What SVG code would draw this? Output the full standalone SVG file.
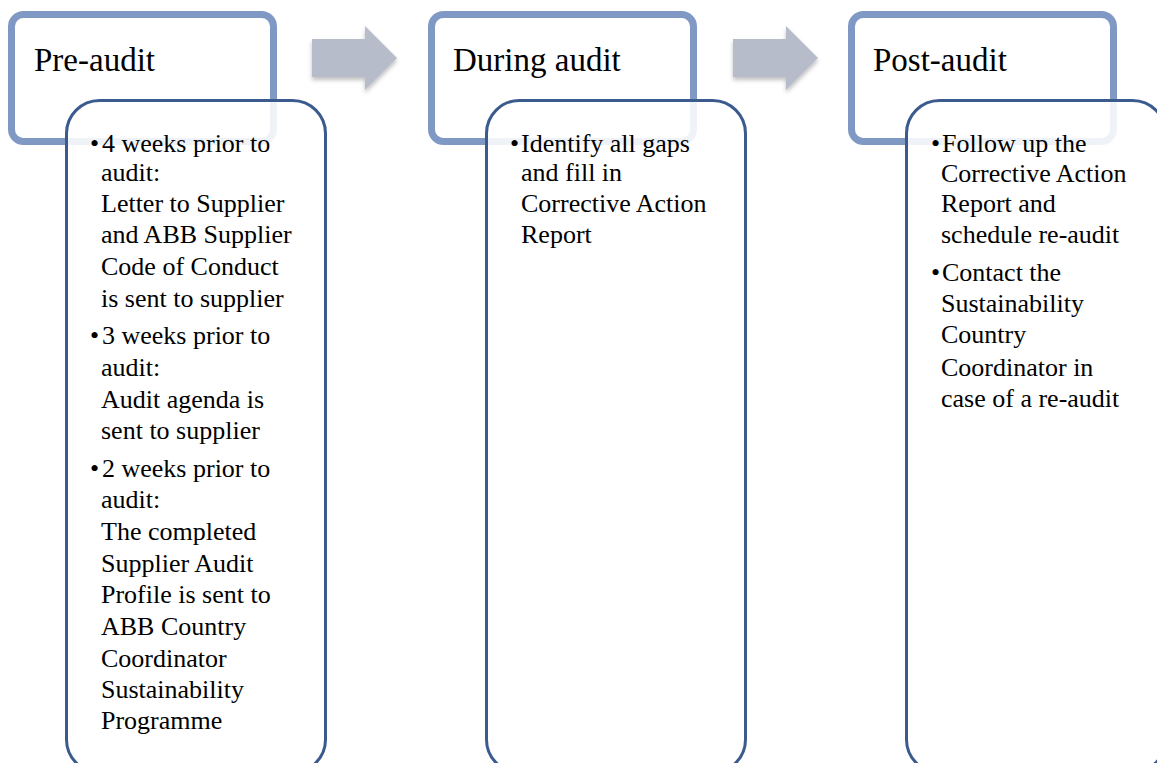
<svg xmlns="http://www.w3.org/2000/svg" width="1157" height="763" viewBox="0 0 1157 763">
  <style>
    .head { fill: #ffffff; stroke: #7f99c4; stroke-width: 7; }
    .body { fill: #ffffff; fill-opacity: 0.88; stroke: #3b5b8e; stroke-width: 3; }
    .title { font-family: "Liberation Serif", "Times New Roman", serif; font-size: 33px; fill: #000000; }
    .txt { font-family: "Liberation Serif", "Times New Roman", serif; font-size: 26px; fill: #000000; }
    .arrow { fill: #b7bccb; filter: url(#shadow); }
  </style>
  <defs>
    <filter id="shadow" x="-20%" y="-20%" width="140%" height="150%">
      <feDropShadow dx="0" dy="3" stdDeviation="2" flood-color="#000000" flood-opacity="0.25"/>
    </filter>
  </defs>

  <rect width="1157" height="763" fill="#ffffff"/>

  <!-- connectors: block arrows between the stages -->
  <g id="connectors">
    <polygon class="arrow" points="312,39 365,39 365,26 397,58 365,90 365,77 312,77"/>
    <polygon class="arrow" points="733,39 786,39 786,26 818,58 786,90 786,77 733,77"/>
  </g>

  <!-- stage 1 -->
  <g id="pre-audit">
    <rect class="head" x="11.5" y="14.5" width="262" height="127" rx="12"/>
    <text class="title" x="34" y="71">Pre-audit</text>
    <rect class="body" x="66.5" y="100.5" width="259" height="672" rx="33"/>
    <text class="txt">
      <tspan x="90" y="152">•</tspan><tspan x="102" y="152">4 weeks prior to</tspan>
      <tspan x="101" y="181">audit:</tspan>
      <tspan x="101" y="212">Letter to Supplier</tspan>
      <tspan x="101" y="243">and ABB Supplier</tspan>
      <tspan x="101" y="275">Code of Conduct</tspan>
      <tspan x="101" y="307">is sent to supplier</tspan>
      <tspan x="90" y="344">•</tspan><tspan x="102" y="344">3 weeks prior to</tspan>
      <tspan x="101" y="376">audit:</tspan>
      <tspan x="101" y="408">Audit agenda is</tspan>
      <tspan x="101" y="439">sent to supplier</tspan>
      <tspan x="90" y="477">•</tspan><tspan x="102" y="477">2 weeks prior to</tspan>
      <tspan x="101" y="508">audit:</tspan>
      <tspan x="101" y="540">The completed</tspan>
      <tspan x="101" y="572">Supplier Audit</tspan>
      <tspan x="101" y="603">Profile is sent to</tspan>
      <tspan x="101" y="635">ABB Country</tspan>
      <tspan x="101" y="667">Coordinator</tspan>
      <tspan x="101" y="698">Sustainability</tspan>
      <tspan x="101" y="729">Programme</tspan>
    </text>
  </g>

  <!-- stage 2 -->
  <g id="during-audit">
    <rect class="head" x="431.5" y="14.5" width="262" height="127" rx="12"/>
    <text class="title" x="453" y="71">During audit</text>
    <rect class="body" x="486.5" y="100.5" width="259" height="672" rx="33"/>
    <text class="txt">
      <tspan x="510" y="152">•</tspan><tspan x="521" y="152">Identify all gaps</tspan>
      <tspan x="521" y="181">and fill in</tspan>
      <tspan x="521" y="212">Corrective Action</tspan>
      <tspan x="521" y="243">Report</tspan>
    </text>
  </g>

  <!-- stage 3 -->
  <g id="post-audit">
    <rect class="head" x="851.5" y="14.5" width="262" height="127" rx="12"/>
    <text class="title" x="873" y="71">Post-audit</text>
    <rect class="body" x="906.5" y="100.5" width="259" height="672" rx="33"/>
    <text class="txt">
      <tspan x="931" y="152">•</tspan><tspan x="942" y="152">Follow up the</tspan>
      <tspan x="941" y="182">Corrective Action</tspan>
      <tspan x="941" y="212">Report and</tspan>
      <tspan x="941" y="243">schedule re-audit</tspan>
      <tspan x="931" y="281">•</tspan><tspan x="942" y="281">Contact the</tspan>
      <tspan x="941" y="312">Sustainability</tspan>
      <tspan x="941" y="343">Country</tspan>
      <tspan x="941" y="376">Coordinator in</tspan>
      <tspan x="941" y="407">case of a re-audit</tspan>
    </text>
  </g>
</svg>
